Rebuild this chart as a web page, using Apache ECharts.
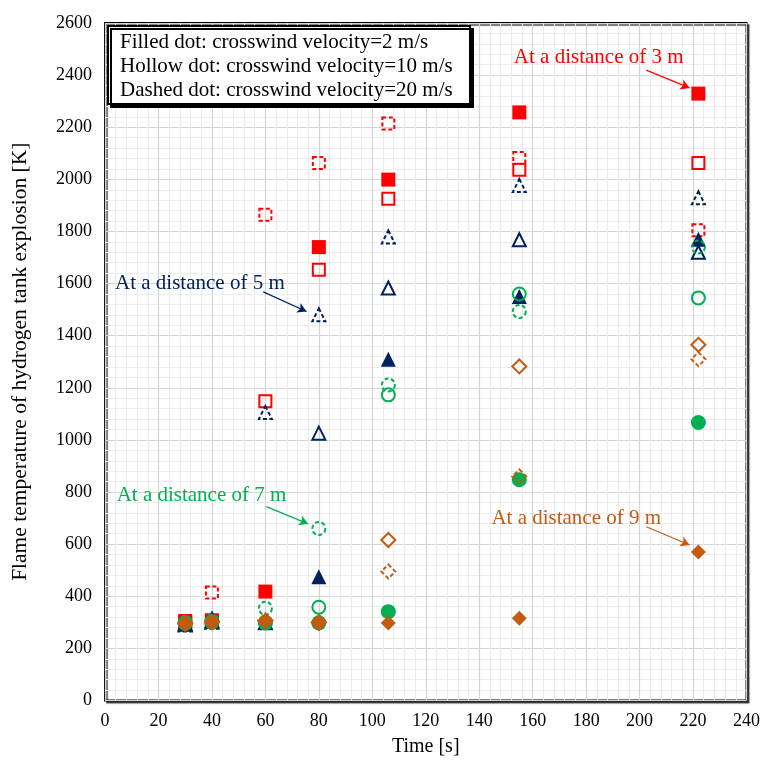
<!DOCTYPE html>
<html>
<head>
<meta charset="utf-8">
<title>Flame temperature of hydrogen tank explosion</title>
<script src="https://cdn.jsdelivr.net/npm/echarts@6/dist/echarts.min.js"></script>
<style>
  html, body { margin: 0; padding: 0; background: #ffffff; }
  #chart { width: 763px; height: 767px; }
</style>
</head>
<body>
<div id="chart"></div>
<script>
// Sampling times [s]
var times = [30, 40, 60, 80, 106, 155, 222];

// Flame temperature [K] at 3 m
var d3Filled = [305, 308, 418, 1740, 1999, 2257, 2329];
var d3Hollow = [300, 302, 1148, 1653, 1926, 2037, 2063];
var d3Dashed = [298, 414, 1864, 2063, 2214, 2082, 1805];
// at 5 m
var d5Filled = [293, 318, 300, 475, 1310, 1550, 1770];
var d5Hollow = [295, 305, 298, 1026, 1583, 1768, 1720];
var d5Dashed = [290, 300, 1105, 1480, 1779, 1976, 1929];
// at 7 m
var d7Filled = [296, 300, 298, 298, 341, 847, 1067];
var d7Hollow = [298, 302, 300, 358, 1173, 1560, 1545];
var d7Dashed = [300, 305, 354, 660, 1211, 1493, 1740];
// at 9 m
var d9Filled = [292, 298, 303, 294, 297, 316, 570];
var d9Hollow = [295, 300, 305, 300, 616, 1282, 1365];
var d9Dashed = [297, 302, 308, 300, 495, 860, 1310];

// Axis ticks
var xTicks = [0, 20, 40, 60, 80, 100, 120, 140, 160, 180, 200, 220, 240];
var yTicks = [0, 200, 400, 600, 800, 1000, 1200, 1400, 1600, 1800, 2000, 2200, 2400, 2600];

// Legend lines
var legendLines = [
  'Filled dot: crosswind velocity=2 m/s',
  'Hollow dot: crosswind velocity=10 m/s',
  'Dashed dot: crosswind velocity=20 m/s'
];

// Distance annotations: text, text anchor [t, T], arrow start, arrow end
var annotationText = ['At a distance of 3 m', 'At a distance of 5 m', 'At a distance of 7 m', 'At a distance of 9 m'];
var annotationAt = [[184.7, 2467], [35.5, 1602], [36.1, 785], [176.3, 700]];
var arrowFrom = [[202.5, 2419], [59.2, 1568], [60.4, 744], [202.5, 667]];
var arrowTo = [[218.7, 2351], [75.4, 1493], [76.0, 678], [218.7, 597]];

var FONT = '"Liberation Serif", "Times New Roman", serif';
var colors = ['#ff0000', '#002060', '#00b050', '#c55a11'];
var symbols = ['rect', 'triangle', 'circle', 'diamond'];
var groups = [
  [d3Filled, d3Hollow, d3Dashed],
  [d5Filled, d5Hollow, d5Dashed],
  [d7Filled, d7Hollow, d7Dashed],
  [d9Filled, d9Hollow, d9Dashed]
];
var styleNames = ['filled', 'hollow', 'dashed'];
var distances = ['3 m', '5 m', '7 m', '9 m'];

function pairs(vals) {
  return times.map(function (t, i) { return [t, vals[i]]; });
}

var series = [];
groups.forEach(function (grp, gi) {
  var c = colors[gi];
  var sym = symbols[gi];
  var size = sym === 'rect' ? 14 : 15;
  grp.forEach(function (vals, si) {
    var item;
    if (si === 0) {
      item = { color: c, borderColor: c, borderWidth: 0, opacity: 1 };
    } else if (si === 1) {
      item = { color: 'rgba(255,255,255,0)', borderColor: c, borderWidth: 2, opacity: 1 };
    } else {
      item = { color: 'rgba(255,255,255,0)', borderColor: c, borderWidth: 2, borderType: [4, 2.5], opacity: 1 };
    }
    var s = {
      name: distances[gi] + ' ' + styleNames[si],
      type: 'scatter',
      symbol: sym,
      symbolSize: si === 0 ? size : (sym === 'diamond' ? size - 1 : size - 2),
      data: pairs(vals),
      itemStyle: item,
      emphasis: { disabled: true },
      z: 3
    };
    if (si === 0) {
      s.markLine = {
        silent: true,
        symbol: ['none', 'arrow'],
        symbolSize: [8, 9],
        label: { show: false },
        lineStyle: { color: c, width: 1.2, type: 'solid', opacity: 1 },
        data: [[{ coord: arrowFrom[gi] }, { coord: arrowTo[gi] }]],
        animation: false
      };
      s.markPoint = {
        silent: true,
        symbol: 'circle',
        symbolSize: 0,
        data: [{ coord: annotationAt[gi] }],
        label: {
          show: true,
          position: 'inside',
          formatter: annotationText[gi],
          color: c,
          fontFamily: FONT,
          fontSize: 21
        },
        animation: false
      };
    }
    series.push(s);
  });
});

var chart = echarts.init(document.getElementById('chart'), null, { renderer: 'canvas' });

var legendTop = 26, legendLeft = 108, legendW = 362, legendH = 78;

chart.setOption({
  animation: false,
  backgroundColor: '#ffffff',
  grid: {
    left: 105, right: 16, top: 23, bottom: 66.5,
    show: true,
    backgroundColor: '#ffffff',
    borderColor: '#000000',
    borderWidth: 2,
    shadowColor: 'rgba(0,0,0,0.55)',
    shadowOffsetX: 2,
    shadowOffsetY: 2,
    shadowBlur: 1
  },
  xAxis: {
    type: 'value',
    min: xTicks[0], max: xTicks[xTicks.length - 1], interval: 20,
    name: 'Time [s]',
    nameLocation: 'middle',
    nameGap: 36,
    nameTextStyle: { fontFamily: FONT, fontSize: 20, color: '#000' },
    axisLine: { show: false },
    axisTick: { show: false },
    axisLabel: { fontFamily: FONT, fontSize: 18, color: '#000', margin: 12 },
    splitLine: { show: true, lineStyle: { color: '#d4d4d4', width: 1.2 } },
    minorTick: { show: false, splitNumber: 5 },
    minorSplitLine: { show: true, lineStyle: { color: '#ececec', width: 1 } }
  },
  yAxis: {
    type: 'value',
    min: yTicks[0], max: yTicks[yTicks.length - 1], interval: 200,
    name: 'Flame temperature of hydrogen tank explosion [K]',
    nameLocation: 'middle',
    nameGap: 74,
    nameTextStyle: { fontFamily: FONT, fontSize: 21.5, color: '#000' },
    axisLine: { show: false },
    axisTick: { show: false },
    axisLabel: {
      fontFamily: FONT, fontSize: 18, color: '#000', margin: 13,
      formatter: function (v) { return String(v); }
    },
    splitLine: { show: true, lineStyle: { color: '#d4d4d4', width: 1.2 } },
    minorTick: { show: false, splitNumber: 5 },
    minorSplitLine: { show: true, lineStyle: { color: '#ececec', width: 1 } }
  },
  graphic: [
    {
      type: 'rect',
      z: 100,
      shape: { x: legendLeft, y: legendTop, width: legendW, height: legendH },
      style: {
        fill: '#ffffff',
        stroke: '#000000',
        lineWidth: 2,
        shadowColor: '#000000',
        shadowOffsetX: 3,
        shadowOffsetY: 3,
        shadowBlur: 0
      }
    }
  ].concat(legendLines.map(function (txt, i) {
    return {
      type: 'text',
      z: 101,
      left: legendLeft + 12,
      top: legendTop + 6 + i * 24,
      style: { text: txt, fontFamily: FONT, fontSize: 21, fill: '#000' }
    };
  })),
  series: series
});
</script>
</body>
</html>
